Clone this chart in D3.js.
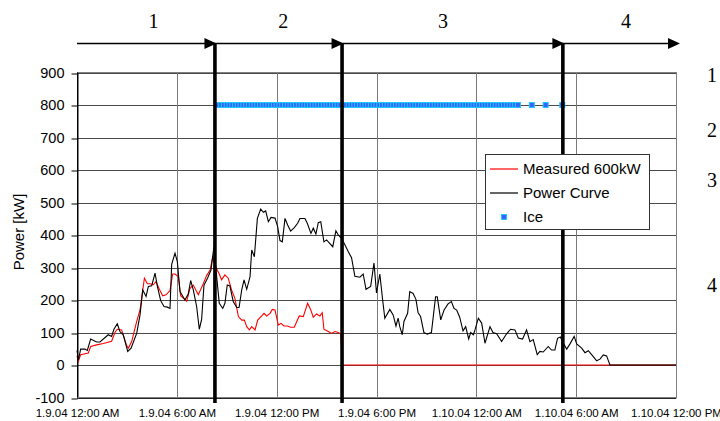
<!DOCTYPE html>
<html>
<head>
<meta charset="utf-8">
<script src="https://cdn.jsdelivr.net/npm/d3@7"></script>
<style>
  body { margin: 0; background: #fff; }
  svg { display: block; }
</style>
</head>
<body>
<svg id="chart"></svg>
<script>
// 1.9.04 00:00 to 1.10.04 12:00
const startTime = new Date(2004, 0, 9, 0, 0);
const endTime = new Date(2004, 0, 10, 12, 0);
const yTicks = [-100, 0, 100, 200, 300, 400, 500, 600, 700, 800, 900];

// [hours since start, kW]
const measured = [
  [0, 29], [0.08, 11], [0.22, 32], [0.68, 37], [0.82, 57], [1.18, 62], [1.58, 66], [2.08, 73],
  [2.28, 100], [2.42, 110], [2.68, 108], [2.99, 59], [3.09, 52], [3.29, 73], [3.59, 134], [3.79, 170],
  [4.05, 267], [4.23, 250], [4.39, 250], [4.59, 247], [4.75, 257], [4.95, 233], [5.15, 213], [5.35, 216],
  [5.59, 229], [5.75, 280], [5.89, 280], [6.09, 272], [6.23, 213], [6.59, 196], [6.79, 236], [6.99, 246],
  [7.29, 216], [7.59, 250], [7.79, 275], [8.0, 292], [8.15, 331], [8.35, 300], [8.55, 280], [8.69, 262],
  [8.89, 277], [9.09, 267], [9.29, 231], [9.49, 205], [9.7, 149], [9.9, 138], [10.06, 138], [10.2, 118],
  [10.36, 108], [10.5, 118], [10.7, 108], [10.86, 138], [11.1, 151], [11.24, 159], [11.4, 151], [11.6, 159],
  [11.74, 171], [11.9, 169], [12.1, 123], [12.26, 128], [12.44, 120], [12.64, 120], [12.84, 116], [13.06, 116],
  [13.2, 133], [13.36, 151], [13.6, 149], [13.86, 190], [14.04, 171], [14.2, 147], [14.4, 157], [14.6, 151],
  [14.74, 161], [14.84, 110], [15.1, 103], [15.3, 97], [15.5, 103], [15.7, 100], [15.85, 95], [15.95, 0],
  [36, 0]
];

const powerCurve = [
  [0, 45], [0.08, 15], [0.22, 49], [0.48, 49], [0.62, 45], [0.82, 80], [1.18, 71], [1.38, 71],
  [1.88, 93], [2.08, 88], [2.22, 110], [2.42, 127], [2.58, 103], [2.78, 93], [3.05, 42], [3.25, 52],
  [3.59, 98], [3.79, 155], [3.95, 231], [4.15, 211], [4.29, 242], [4.49, 244], [4.69, 283], [4.83, 242],
  [5.03, 198], [5.23, 180], [5.43, 178], [5.59, 174], [5.69, 310], [5.89, 344], [6.03, 318], [6.19, 226],
  [6.49, 200], [6.69, 219], [6.83, 260], [6.99, 231], [7.19, 180], [7.35, 110], [7.49, 140], [7.63, 245],
  [7.85, 268], [8.05, 292], [8.23, 364], [8.35, 295], [8.55, 190], [8.76, 174], [8.89, 190], [9.03, 246],
  [9.19, 243], [9.39, 195], [9.6, 177], [9.74, 177], [9.9, 231], [10.04, 262], [10.2, 233], [10.4, 272],
  [10.5, 354], [10.66, 333], [10.84, 451], [11.04, 480], [11.2, 470], [11.34, 474], [11.5, 441], [11.66, 454],
  [11.9, 452], [12.06, 426], [12.2, 383], [12.34, 379], [12.5, 451], [12.66, 431], [12.84, 412], [13.06, 423],
  [13.26, 436], [13.4, 451], [13.7, 451], [13.84, 436], [14.06, 405], [14.2, 421], [14.36, 403], [14.5, 438],
  [14.65, 441], [14.84, 379], [15.0, 385], [15.16, 376], [15.37, 364], [15.56, 413], [15.7, 400], [15.9, 390],
  [16.1, 370], [16.3, 349], [16.5, 330], [16.7, 273], [17.0, 270], [17.2, 280], [17.37, 233], [17.65, 242],
  [17.85, 314], [18.0, 222], [18.2, 280], [18.37, 200], [18.5, 144], [18.8, 171], [19.0, 154], [19.17, 120],
  [19.3, 144], [19.4, 118], [19.55, 93], [19.65, 134], [19.87, 159], [20.0, 226], [20.2, 220], [20.37, 202],
  [20.5, 161], [20.65, 149], [20.85, 100], [21.05, 95], [21.3, 100], [21.55, 210], [21.65, 210], [21.86, 139],
  [22.06, 169], [22.3, 188], [22.5, 195], [22.66, 174], [22.82, 169], [23.0, 147], [23.2, 105], [23.36, 118],
  [23.54, 80], [23.66, 100], [23.82, 93], [23.92, 108], [24.12, 144], [24.32, 129], [24.52, 67], [24.82, 118],
  [25.0, 100], [25.22, 96], [25.52, 72], [25.82, 96], [26.06, 110], [26.32, 108], [26.52, 83], [26.78, 80],
  [27.02, 108], [27.22, 72], [27.42, 78], [27.66, 32], [27.82, 42], [28.02, 40], [28.32, 57], [28.52, 46],
  [28.72, 46], [28.88, 82], [29.05, 86], [29.25, 65], [29.43, 49], [29.63, 65], [29.88, 88], [30.03, 65],
  [30.33, 52], [30.53, 38], [30.73, 44], [31.03, 26], [31.23, 13], [31.43, 18], [31.63, 31], [31.83, 28],
  [32.03, 0], [36, 0]
];

// minutes since start with ice flagged (plotted at 800)
const iceLevel = 800;
const iceMinutes = [
  510, 520, 530, 540, 550, 560, 570, 580, 590, 600, 610, 620, 630, 640, 650, 660, 670, 680,
  690, 700, 710, 720, 730, 740, 750, 760, 770, 780, 790, 800, 810, 820, 830, 840, 850, 860,
  870, 880, 890, 900, 910, 920, 930, 940, 950, 960, 970, 980, 990, 1000, 1010, 1020, 1030, 1040,
  1050, 1060, 1070, 1080, 1090, 1100, 1110, 1120, 1130, 1140, 1150, 1160, 1170, 1180, 1190, 1200,
  1210, 1220, 1230, 1240, 1250, 1260, 1270, 1280, 1290, 1300, 1310, 1320, 1330, 1340, 1350, 1360,
  1370, 1380, 1390, 1400, 1410, 1420, 1430, 1440, 1450, 1460, 1470, 1480, 1490, 1500, 1510, 1520,
  1530, 1540, 1550, 1560, 1570, 1580, 1590, 1640, 1690, 1750
];

// phase boundaries (hours) and the numbers over the arrows
const phaseBounds = [0, 8.29, 15.93, 29.2, 36.15];
const phaseLabels = ["1", "2", "3", "4"];
const phaseLabelHours = [4.6, 12.4, 22.0, 33.0];
const sideLabels = ["1", "2", "3", "4"];

const width = 720, height = 421;
const svg = d3.select("#chart").attr("width", width).attr("height", height);

const hour = h => new Date(startTime.getTime() + h * 3600e3);

const x = d3.scaleTime().domain([startTime, endTime]).range([77, 676]);
const y = d3.scaleLinear().domain([-100, 900]).range([397.5, 72.5]);
const xTicks = d3.timeHour.every(6).range(startTime, d3.timeMinute.offset(endTime, 1));
const fmt = d3.timeFormat("%-m.%-d.%y %-I:%M %p");

// gridlines
svg.append("g").selectAll("line").data(yTicks).join("line")
  .attr("x1", 77).attr("x2", 676)
  .attr("y1", d => Math.round(y(d)) + 0.5).attr("y2", d => Math.round(y(d)) + 0.5)
  .attr("stroke", "#4a4a4a").attr("stroke-width", 1);

svg.append("g").selectAll("line").data(xTicks).join("line")
  .attr("x1", d => Math.round(x(d)) + 0.5).attr("x2", d => Math.round(x(d)) + 0.5)
  .attr("y1", 72.5).attr("y2", 397.5)
  .attr("stroke", "#7a7a7a").attr("stroke-width", 1);

// y axis
const yAxis = svg.append("g")
  .attr("transform", "translate(77.5,0)")
  .call(d3.axisLeft(y).tickValues(yTicks).tickSize(6).tickSizeOuter(0).tickPadding(7).tickFormat(d => String(d)));
yAxis.select(".domain").attr("stroke", "#000");
yAxis.selectAll(".tick line").attr("stroke", "#000")
  .attr("transform", d => `translate(0,${Math.round(y(d)) + 0.5 - y(d)})`);
yAxis.selectAll("text").attr("font-family", "Liberation Sans, Arial, sans-serif")
  .attr("font-size", "14.5px").attr("fill", "#000");

// x axis labels
const xAxis = svg.append("g")
  .attr("transform", "translate(0,397.5)")
  .call(d3.axisBottom(x).tickValues(xTicks).tickSize(0).tickPadding(11).tickFormat(fmt));
xAxis.select(".domain").attr("stroke", "#000");
xAxis.selectAll("text").attr("font-family", "Liberation Sans, Arial, sans-serif")
  .attr("font-size", "11.5px").attr("fill", "#000");

// y title
svg.append("text")
  .attr("transform", "translate(24,232) rotate(-90)")
  .attr("text-anchor", "middle")
  .attr("font-family", "Liberation Sans, Arial, sans-serif")
  .attr("font-size", "15px")
  .text("Power [kW]");

// series
const line = d3.line().x(d => x(hour(d[0]))).y(d => y(d[1]));

svg.append("path").datum(measured)
  .attr("d", line).attr("fill", "none").attr("stroke", "#ff0000").attr("stroke-width", 1.1);

svg.append("path").datum(powerCurve)
  .attr("d", line).attr("fill", "none").attr("stroke", "#000").attr("stroke-width", 1.1);

svg.append("g").selectAll("rect").data(iceMinutes).join("rect")
  .attr("x", d => x(hour(d / 60)) - 2.5)
  .attr("y", y(iceLevel) - 2.5)
  .attr("width", 5).attr("height", 5)
  .attr("fill", "#3366ff").attr("stroke", "#1ec8ff").attr("stroke-width", 1);

// plot border
svg.append("rect")
  .attr("x", 77.5).attr("y", 72.5).attr("width", 599).attr("height", 325)
  .attr("fill", "none").attr("stroke", "#808080");
svg.append("line").attr("x1", 77.5).attr("x2", 77.5).attr("y1", 72.5).attr("y2", 397.5).attr("stroke", "#000");

// phase arrows and dividers
const arrowY = 43.5;
svg.append("line")
  .attr("x1", x(hour(phaseBounds[0]))).attr("x2", x(hour(phaseBounds[4])) - 6)
  .attr("y1", arrowY).attr("y2", arrowY)
  .attr("stroke", "#000").attr("stroke-width", 1.6);

svg.append("g").selectAll("path").data(phaseBounds.slice(1)).join("path")
  .attr("d", d => {
    const tx = x(hour(d)) + 1.5;
    return `M${tx},${arrowY} L${tx - 12},${arrowY - 5.5} L${tx - 12},${arrowY + 5.5} Z`;
  })
  .attr("fill", "#000");

svg.append("g").selectAll("line").data(phaseBounds.slice(1, 4)).join("line")
  .attr("x1", d => x(hour(d))).attr("x2", d => x(hour(d)))
  .attr("y1", arrowY).attr("y2", 403)
  .attr("stroke", "#000").attr("stroke-width", 3.6);

svg.append("g").selectAll("text").data(phaseLabels).join("text")
  .attr("x", (d, i) => x(hour(phaseLabelHours[i])))
  .attr("y", 28)
  .attr("text-anchor", "middle")
  .attr("font-family", "Liberation Serif, Times New Roman, serif")
  .attr("font-size", "20px")
  .text(d => d);

// legend sits over the divider line
const lg = svg.append("g");
lg.append("rect").attr("x", 485.5).attr("y", 154.5).attr("width", 164).attr("height", 75)
  .attr("fill", "#fff").attr("stroke", "#333");
const legendItems = [
  { name: "Measured 600kW", type: "line", color: "#ff0000" },
  { name: "Power Curve", type: "line", color: "#000" },
  { name: "Ice", type: "mark", color: "#3366ff" }
];
legendItems.forEach((d, i) => {
  const cy = 169 + i * 24;
  if (d.type === "line") {
    lg.append("line").attr("x1", 490).attr("x2", 518).attr("y1", cy).attr("y2", cy)
      .attr("stroke", d.color).attr("stroke-width", 1.2);
  } else {
    lg.append("rect").attr("x", 501.5).attr("y", cy - 2.5).attr("width", 5).attr("height", 5)
      .attr("fill", d.color).attr("stroke", "#1ec8ff");
  }
  lg.append("text").attr("x", 523).attr("y", cy).attr("dy", "0.35em")
    .attr("font-family", "Liberation Sans, Arial, sans-serif").attr("font-size", "15px")
    .text(d.name);
});

// numbers at the right edge (cut off in the original)
const sideY = [82, 137, 187, 292];
svg.append("g").selectAll("text").data(sideLabels).join("text")
  .attr("x", 707).attr("y", (d, i) => sideY[i])
  .attr("font-family", "Liberation Serif, Times New Roman, serif")
  .attr("font-size", "20px")
  .text(d => d);
</script>
</body>
</html>
